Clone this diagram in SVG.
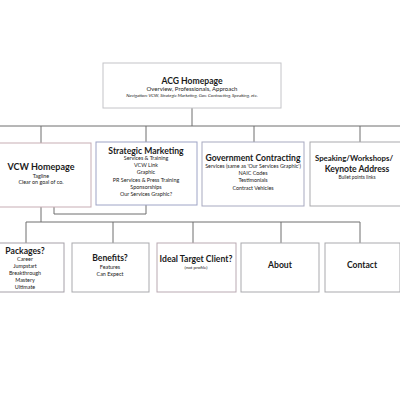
<svg xmlns="http://www.w3.org/2000/svg" width="400" height="400" viewBox="0 0 400 400">
<style>
text{font-family:Lato,"Open Sans","Liberation Sans",sans-serif;fill:#1a1a1a;text-anchor:middle}
.t{font-weight:bold;font-size:8.6px}
.s{font-size:5.4px}
.n{font-size:4.5px;font-style:italic}
.box{fill:#fff;stroke:#a9a9ad;stroke-width:1}
.c{fill:none;stroke:#6e6e6e;stroke-width:1}
</style>
<rect width="400" height="400" fill="#fff"/>
<g id="connectors">
<path class="c" d="M192 108V126M0 126H400M41 126V143M146 126V142M254 126V142M360 126V142"/>
<path class="c" d="M54 207V214H146V205"/>
<path class="c" d="M41 207V222M26 222H360M26 222V243M113 222V243M193 222V243M281 222V243M360 222V243"/>
</g>
<g id="acg">
<rect class="box" x="103" y="63" width="178" height="45" style="stroke:#c4c4c8"/>
<text class="t" x="192" y="84">ACG Homepage</text>
<text class="s" x="192" y="91" style="font-size:6px">Overview, Professionals, Approach</text>
<text class="n" x="192" y="97">Navigation: VCW, Strategic Marketing, Gov. Contracting, Speaking, etc.</text>
</g>
<g id="vcw">
<rect class="box" x="-2" y="143" width="93" height="64" style="stroke:#c7adb4"/>
<text class="t" x="41" y="170" style="font-size:9px">VCW Homepage</text>
<text class="s" x="41" y="178">Tagline</text>
<text class="s" x="41" y="184">Clear on goal of co.</text>
</g>
<g id="strategic">
<rect class="box" x="96" y="142" width="101" height="63" style="stroke:#9ea4c6"/>
<text class="t" x="146" y="154">Strategic Marketing</text>
<text class="s" x="146" y="160">Services &amp; Training</text>
<text class="s" x="146" y="167">VCW Link</text>
<text class="s" x="146" y="174">Graphic</text>
<text class="s" x="146" y="182">PR Services &amp; Press Training</text>
<text class="s" x="146" y="189">Sponsorships</text>
<text class="s" x="146" y="196">Our Services Graphic?</text>
</g>
<g id="gov">
<rect class="box" x="202" y="142" width="102" height="64" style="stroke:#a7a9c0"/>
<text class="t" x="253" y="161">Government Contracting</text>
<text class="s" x="253" y="168">Services (same as 'Our Services Graphic')</text>
<text class="s" x="253" y="175">NAIC Codes</text>
<text class="s" x="253" y="182">Testimonials</text>
<text class="s" x="253" y="190">Contract Vehicles</text>
</g>
<g id="speaking">
<rect class="box" x="310" y="142" width="94" height="64" style="stroke:#a9a9ad"/>
<text class="t" x="354" y="161" style="font-size:7.8px">Speaking/Workshops/</text>
<text class="t" x="357" y="172">Keynote Address</text>
<text class="s" x="357" y="179" style="font-size:4.8px">Bullet points links</text>
</g>
<g id="packages">
<rect class="box" x="-14" y="243" width="78" height="49" style="stroke:#a5a0a8"/>
<text class="t" x="25" y="254">Packages?</text>
<text class="s" x="25" y="261">Career</text>
<text class="s" x="25" y="268">Jumpstart</text>
<text class="s" x="25" y="275">Breakthrough</text>
<text class="s" x="25" y="282">Mastery</text>
<text class="s" x="25" y="289">Ultimate</text>
</g>
<g id="benefits">
<rect class="box" x="72" y="243" width="77" height="49"/>
<text class="t" x="110" y="261">Benefits?</text>
<text class="s" x="110" y="269">Features</text>
<text class="s" x="110" y="276">Can Expect</text>
</g>
<g id="ideal">
<rect class="box" x="157" y="243" width="79" height="49" style="stroke:#b9a9b2"/>
<text class="t" x="196" y="262">Ideal Target Client?</text>
<text class="s" x="196" y="269" style="font-size:4.6px">(not profile)</text>
</g>
<g id="about">
<rect class="box" x="241" y="243" width="78" height="49"/>
<text class="t" x="280" y="268">About</text>
</g>
<g id="contact">
<rect class="box" x="325" y="243" width="75" height="49"/>
<text class="t" x="362" y="268">Contact</text>
</g>
</svg>
